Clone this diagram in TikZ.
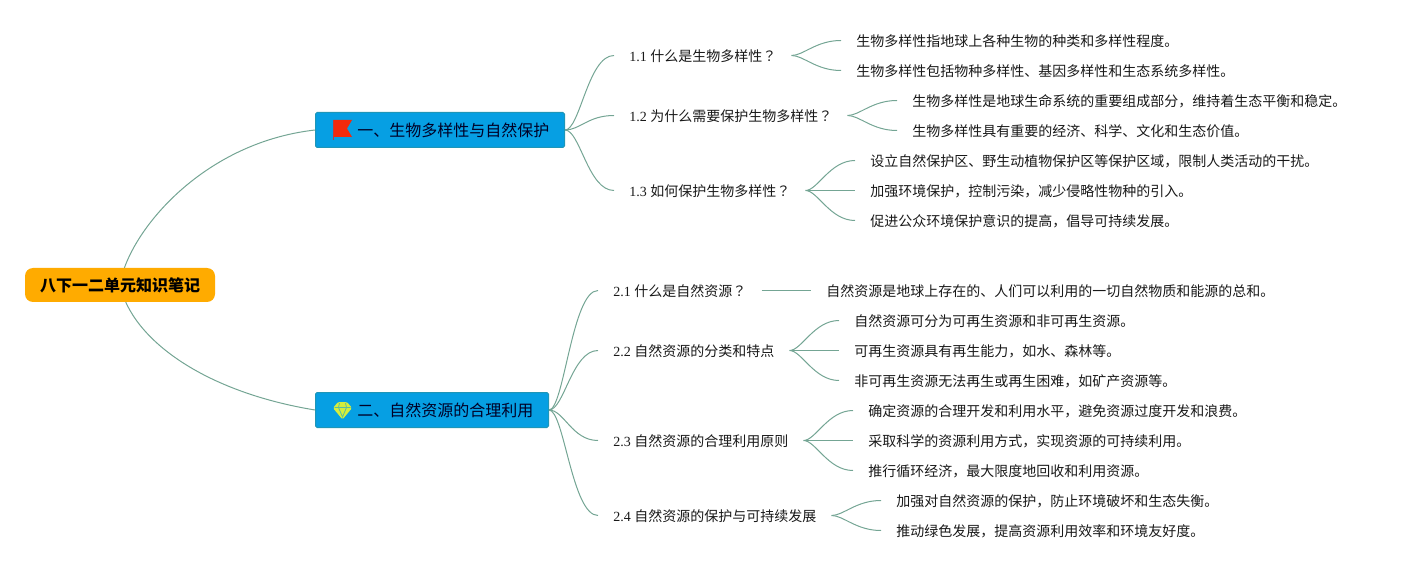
\documentclass[tikz,border=0pt]{standalone}
\usepackage{fontspec}
\setmainfont{Liberation Serif}
\newfontfamily\cjk{Noto Sans CJK SC}
\newfontfamily\cjkq{Noto Sans CJK TC}
\usetikzlibrary{backgrounds}
\definecolor{linkc}{HTML}{74A594}
\definecolor{topicc}{HTML}{069FE3}
\definecolor{topicb}{HTML}{1E96B8}
\definecolor{rootc}{HTML}{FFAB00}
\definecolor{gemc}{HTML}{D6EE3C}
\definecolor{flagc}{HTML}{F22A0C}
\tikzset{
 x=0.75pt,y=-0.75pt,
 rootnode/.style={fill=rootc,rounded corners=6pt,minimum width=142.5pt,minimum height=25.5pt,inner sep=0pt,font=\fontsize{12}{14}\selectfont\cjk\bfseries,text=black},
 topicnode/.style={fill=topicc,draw=topicb,line width=.75pt,rounded corners=1.2pt,minimum height=26.25pt,inner sep=0pt,anchor=west},
 topictext/.style={anchor=west,inner sep=0pt,font=\fontsize{12}{14}\selectfont\cjk,text=black!85!blue},
 subnode/.style={anchor=west,yshift=.375pt,text height=10.4pt,text depth=1.6pt,inner xsep=11.25pt,inner ysep=0pt,font=\fontsize{10.5}{12}\selectfont,text=black!90},
 leafnode/.style={anchor=west,yshift=.375pt,text height=10.4pt,text depth=1.6pt,inner xsep=11.25pt,inner ysep=0pt,font=\fontsize{10.5}{12}\selectfont\cjk,text=black!90},
 link/.style={draw=linkc,line width=.75pt},
}
\newcommand{\sect}[2]{#1 {\cjk #2}}
\newcommand{\qm}{{\cjkq ？}}
\begin{document}
\begin{tikzpicture}
\useasboundingbox (0,0) rectangle (1406,570);
\node[rootnode] (root) at (120,285) {八下一二单元知识笔记};
\node[topicnode,minimum width=186.75pt] (t1) at (315,130) {};
\node[topicnode,minimum width=174.75pt] (t2) at (315,410) {};
\node[topictext] (t1x) at (357,130) {一、生物多样性与自然保护};
\node[topictext] (t2x) at (357,410) {二、自然资源的合理利用};
% icons
\fill[flagc] (333.5,120) -- (352,120) -- (347,128.5) -- (352,137) -- (333.5,137) -- cycle;
\draw[red!55!gray,line width=.6pt] (333.5,120) -- (333.5,140);
\fill[gemc,rounded corners=1pt] (338,402) -- (347,402) -- (352,408) -- (342.5,419.5) -- (333,408) -- cycle;
\draw[topicc!60!gemc,line width=.6pt] (334.5,407.5) -- (350.5,407.5) (339.5,403) -- (338.5,407.5) -- (342.5,417) -- (346.5,407.5) -- (345.5,403);
% sub topics
\node[subnode] (s11) at (614,56) {\sect{1.1}{什么是生物多样性\qm}};
\node[subnode] (s12) at (614,116) {\sect{1.2}{为什么需要保护生物多样性\qm}};
\node[subnode] (s13) at (614,191) {\sect{1.3}{如何保护生物多样性\qm}};
\node[subnode] (s21) at (598,291) {\sect{2.1}{什么是自然资源\qm}};
\node[subnode] (s22) at (598,351) {\sect{2.2}{自然资源的分类和特点}};
\node[subnode] (s23) at (598,441) {\sect{2.3}{自然资源的合理利用原则}};
\node[subnode] (s24) at (598,516) {\sect{2.4}{自然资源的保护与可持续发展}};
% leaves
\node[leafnode] (a1) at (841,41) {生物多样性指地球上各种生物的种类和多样性程度。};
\node[leafnode] (a2) at (841,71) {生物多样性包括物种多样性、基因多样性和生态系统多样性。};
\node[leafnode] (b1) at (897,101) {生物多样性是地球生命系统的重要组成部分，维持着生态平衡和稳定。};
\node[leafnode] (b2) at (897,131) {生物多样性具有重要的经济、科学、文化和生态价值。};
\node[leafnode] (c1) at (855,161) {设立自然保护区、野生动植物保护区等保护区域，限制人类活动的干扰。};
\node[leafnode] (c2) at (855,191) {加强环境保护，控制污染，减少侵略性物种的引入。};
\node[leafnode] (c3) at (855,221) {促进公众环境保护意识的提高，倡导可持续发展。};
\node[leafnode] (d1) at (811,291) {自然资源是地球上存在的、人们可以利用的一切自然物质和能源的总和。};
\node[leafnode] (e1) at (839,321) {自然资源可分为可再生资源和非可再生资源。};
\node[leafnode] (e2) at (839,351) {可再生资源具有再生能力，如水、森林等。};
\node[leafnode] (e3) at (839,381) {非可再生资源无法再生或再生困难，如矿产资源等。};
\node[leafnode] (f1) at (853,411) {确定资源的合理开发和利用水平，避免资源过度开发和浪费。};
\node[leafnode] (f2) at (853,441) {采取科学的资源利用方式，实现资源的可持续利用。};
\node[leafnode] (f3) at (853,471) {推行循环经济，最大限度地回收和利用资源。};
\node[leafnode] (g1) at (881,501) {加强对自然资源的保护，防止环境破坏和生态失衡。};
\node[leafnode] (g2) at (881,531) {推动绿色发展，提高资源利用效率和环境友好度。};
\begin{scope}[on background layer]
\draw[link] (root.center) .. controls (127,235) and (200,143) .. (t1.west);
\draw[link] (root.center) .. controls (132,340) and (205,392) .. (t2.west);
\foreach \a/\b in {t1/s11,t1/s12,t1/s13,t2/s21,t2/s22,t2/s23,t2/s24}
  \draw[link] (\a.east) .. controls +(15,0) and +(-26,0) .. (\b.west);
\foreach \a/\b in {s11/a1,s11/a2,s12/b1,s12/b2,s13/c1,s13/c2,s13/c3,s21/d1,s22/e1,s22/e2,s22/e3,s23/f1,s23/f2,s23/f3,s24/g1,s24/g2}
  \draw[link] (\a.east) .. controls +(12,0) and +(-25,0) .. (\b.west);
\end{scope}
\end{tikzpicture}
\end{document}
